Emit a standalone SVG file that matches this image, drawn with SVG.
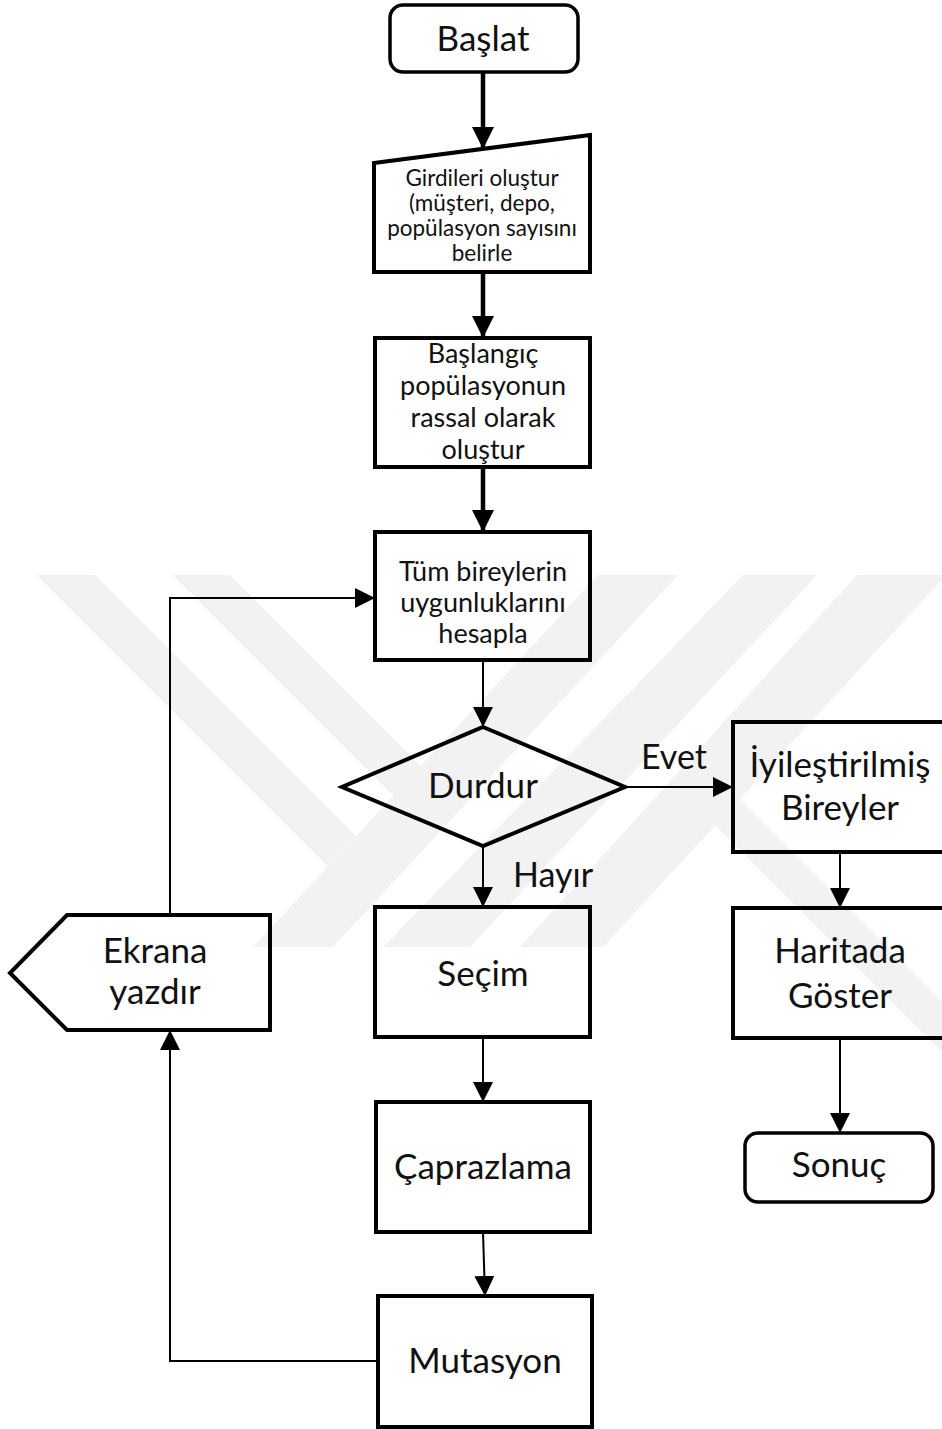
<svg xmlns="http://www.w3.org/2000/svg" width="942" height="1429" viewBox="0 0 942 1429">
  <style>
    .shape { fill: none; stroke: #000; stroke-width: 4; stroke-linejoin: miter; }
    .round { fill: none; stroke: #000; stroke-width: 3.5; }
    .thick { fill: none; stroke: #000; stroke-width: 4.5; }
    .thin { fill: none; stroke: #000; stroke-width: 2; }
    .wm { fill: #f2f2f2; }
    text { font-family: Lato, "Liberation Sans", sans-serif; fill: #111; text-anchor: middle; }
    .big { font-size: 35px; }
    .mid { font-size: 27px; }
    .small { font-size: 22.5px; }
    .lbl { font-size: 34px; text-anchor: start; }
  </style>
  <defs>
    <marker id="headThick" markerUnits="userSpaceOnUse" markerWidth="24" markerHeight="24" refX="22" refY="11" orient="auto">
      <path d="M0,0 L22,11 L0,22 Z" fill="#000"/>
    </marker>
    <marker id="headThin" markerUnits="userSpaceOnUse" markerWidth="22" markerHeight="22" refX="20" refY="10" orient="auto">
      <path d="M0,0 L20,10 L0,20 Z" fill="#000"/>
    </marker>
  </defs>

  <rect width="942" height="1429" fill="#fff"/>

  <!-- faint background emblem -->
  <g id="emblem">
    <polygon class="wm" points="37,575 95,575 356,836 328,866"/>
    <polygon class="wm" points="173,575 230,575 421,766 394,796"/>
    <polygon class="wm" points="598,575 678,575 333,947 253,947"/>
    <polygon class="wm" points="743,575 817,575 470,947 383,947"/>
    <polygon class="wm" points="857,575 942,575 942,580 603,947 520,947"/>
    <polygon class="wm" points="680,790 730,790 942,1002 942,1052"/>
  </g>

  <!-- connectors -->
  <g id="connectors">
    <line class="thick" x1="483" y1="72" x2="483" y2="149" marker-end="url(#headThick)"/>
    <line class="thick" x1="483" y1="272" x2="483" y2="338" marker-end="url(#headThick)"/>
    <line class="thick" x1="483" y1="467" x2="483" y2="532" marker-end="url(#headThick)"/>
    <line class="thin" x1="483" y1="660" x2="483" y2="727" marker-end="url(#headThin)"/>
    <line class="thin" x1="483" y1="846" x2="483" y2="907" marker-end="url(#headThin)"/>
    <line class="thin" x1="625" y1="787" x2="733" y2="787" marker-end="url(#headThin)"/>
    <line class="thin" x1="840" y1="852" x2="840" y2="908" marker-end="url(#headThin)"/>
    <line class="thin" x1="840" y1="1038" x2="840" y2="1133" marker-end="url(#headThin)"/>
    <line class="thin" x1="483" y1="1037" x2="483" y2="1102" marker-end="url(#headThin)"/>
    <line class="thin" x1="483" y1="1232" x2="485" y2="1296" marker-end="url(#headThin)"/>
    <polyline class="thin" points="378,1361 170,1361 170,1030" marker-end="url(#headThin)"/>
    <polyline class="thin" points="170,915 170,598 375,598" marker-end="url(#headThin)"/>
    <text class="lbl" x="641" y="769">Evet</text>
    <text class="lbl" x="513" y="887">Hayır</text>
  </g>

  <g id="start">
    <rect class="round" x="390" y="5" width="188" height="67" rx="13"/>
    <text class="big" x="483" y="51">Başlat</text>
  </g>

  <g id="inputs">
    <polygon class="shape" points="374,163 590,135 590,272 374,272"/>
    <text class="small" x="482" y="186">Girdileri oluştur</text>
    <text class="small" x="482" y="211">(müşteri, depo,</text>
    <text class="small" x="482" y="236">popülasyon sayısını</text>
    <text class="small" x="482" y="261">belirle</text>
  </g>

  <g id="init-population">
    <rect class="shape" x="375" y="338" width="215" height="129"/>
    <text class="mid" x="483" y="363">Başlangıç</text>
    <text class="mid" x="483" y="395">popülasyonun</text>
    <text class="mid" x="483" y="427">rassal olarak</text>
    <text class="mid" x="483" y="459">oluştur</text>
  </g>

  <g id="fitness">
    <rect class="shape" x="375" y="532" width="215" height="128"/>
    <text class="mid" x="483" y="581">Tüm bireylerin</text>
    <text class="mid" x="483" y="612">uygunluklarını</text>
    <text class="mid" x="483" y="643">hesapla</text>
  </g>

  <g id="stop-check">
    <polygon class="shape" points="483,727 625,787 483,846 342,787"/>
    <text class="big" x="483" y="798">Durdur</text>
  </g>

  <g id="selection">
    <rect class="shape" x="375" y="907" width="215" height="130"/>
    <text class="big" x="483" y="986">Seçim</text>
  </g>

  <g id="crossover">
    <rect class="shape" x="376" y="1102" width="214" height="130"/>
    <text class="big" x="483" y="1179">Çaprazlama</text>
  </g>

  <g id="mutation">
    <rect class="shape" x="378" y="1296" width="214" height="131"/>
    <text class="big" x="485" y="1373">Mutasyon</text>
  </g>

  <g id="print-screen">
    <polygon class="shape" points="67,915 270,915 270,1030 67,1030 10,973"/>
    <text class="big" x="155" y="963">Ekrana</text>
    <text class="big" x="155" y="1004">yazdır</text>
  </g>

  <g id="improved">
    <rect class="shape" x="733" y="722" width="212" height="130"/>
    <text class="big" x="840" y="777">İyileştirilmiş</text>
    <text class="big" x="840" y="820">Bireyler</text>
  </g>

  <g id="show-map">
    <rect class="shape" x="733" y="908" width="212" height="130"/>
    <text class="big" x="840" y="963">Haritada</text>
    <text class="big" x="840" y="1008">Göster</text>
  </g>

  <g id="result">
    <rect class="round" x="745" y="1133" width="188" height="69" rx="13"/>
    <text class="big" x="839" y="1177">Sonuç</text>
  </g>
</svg>
